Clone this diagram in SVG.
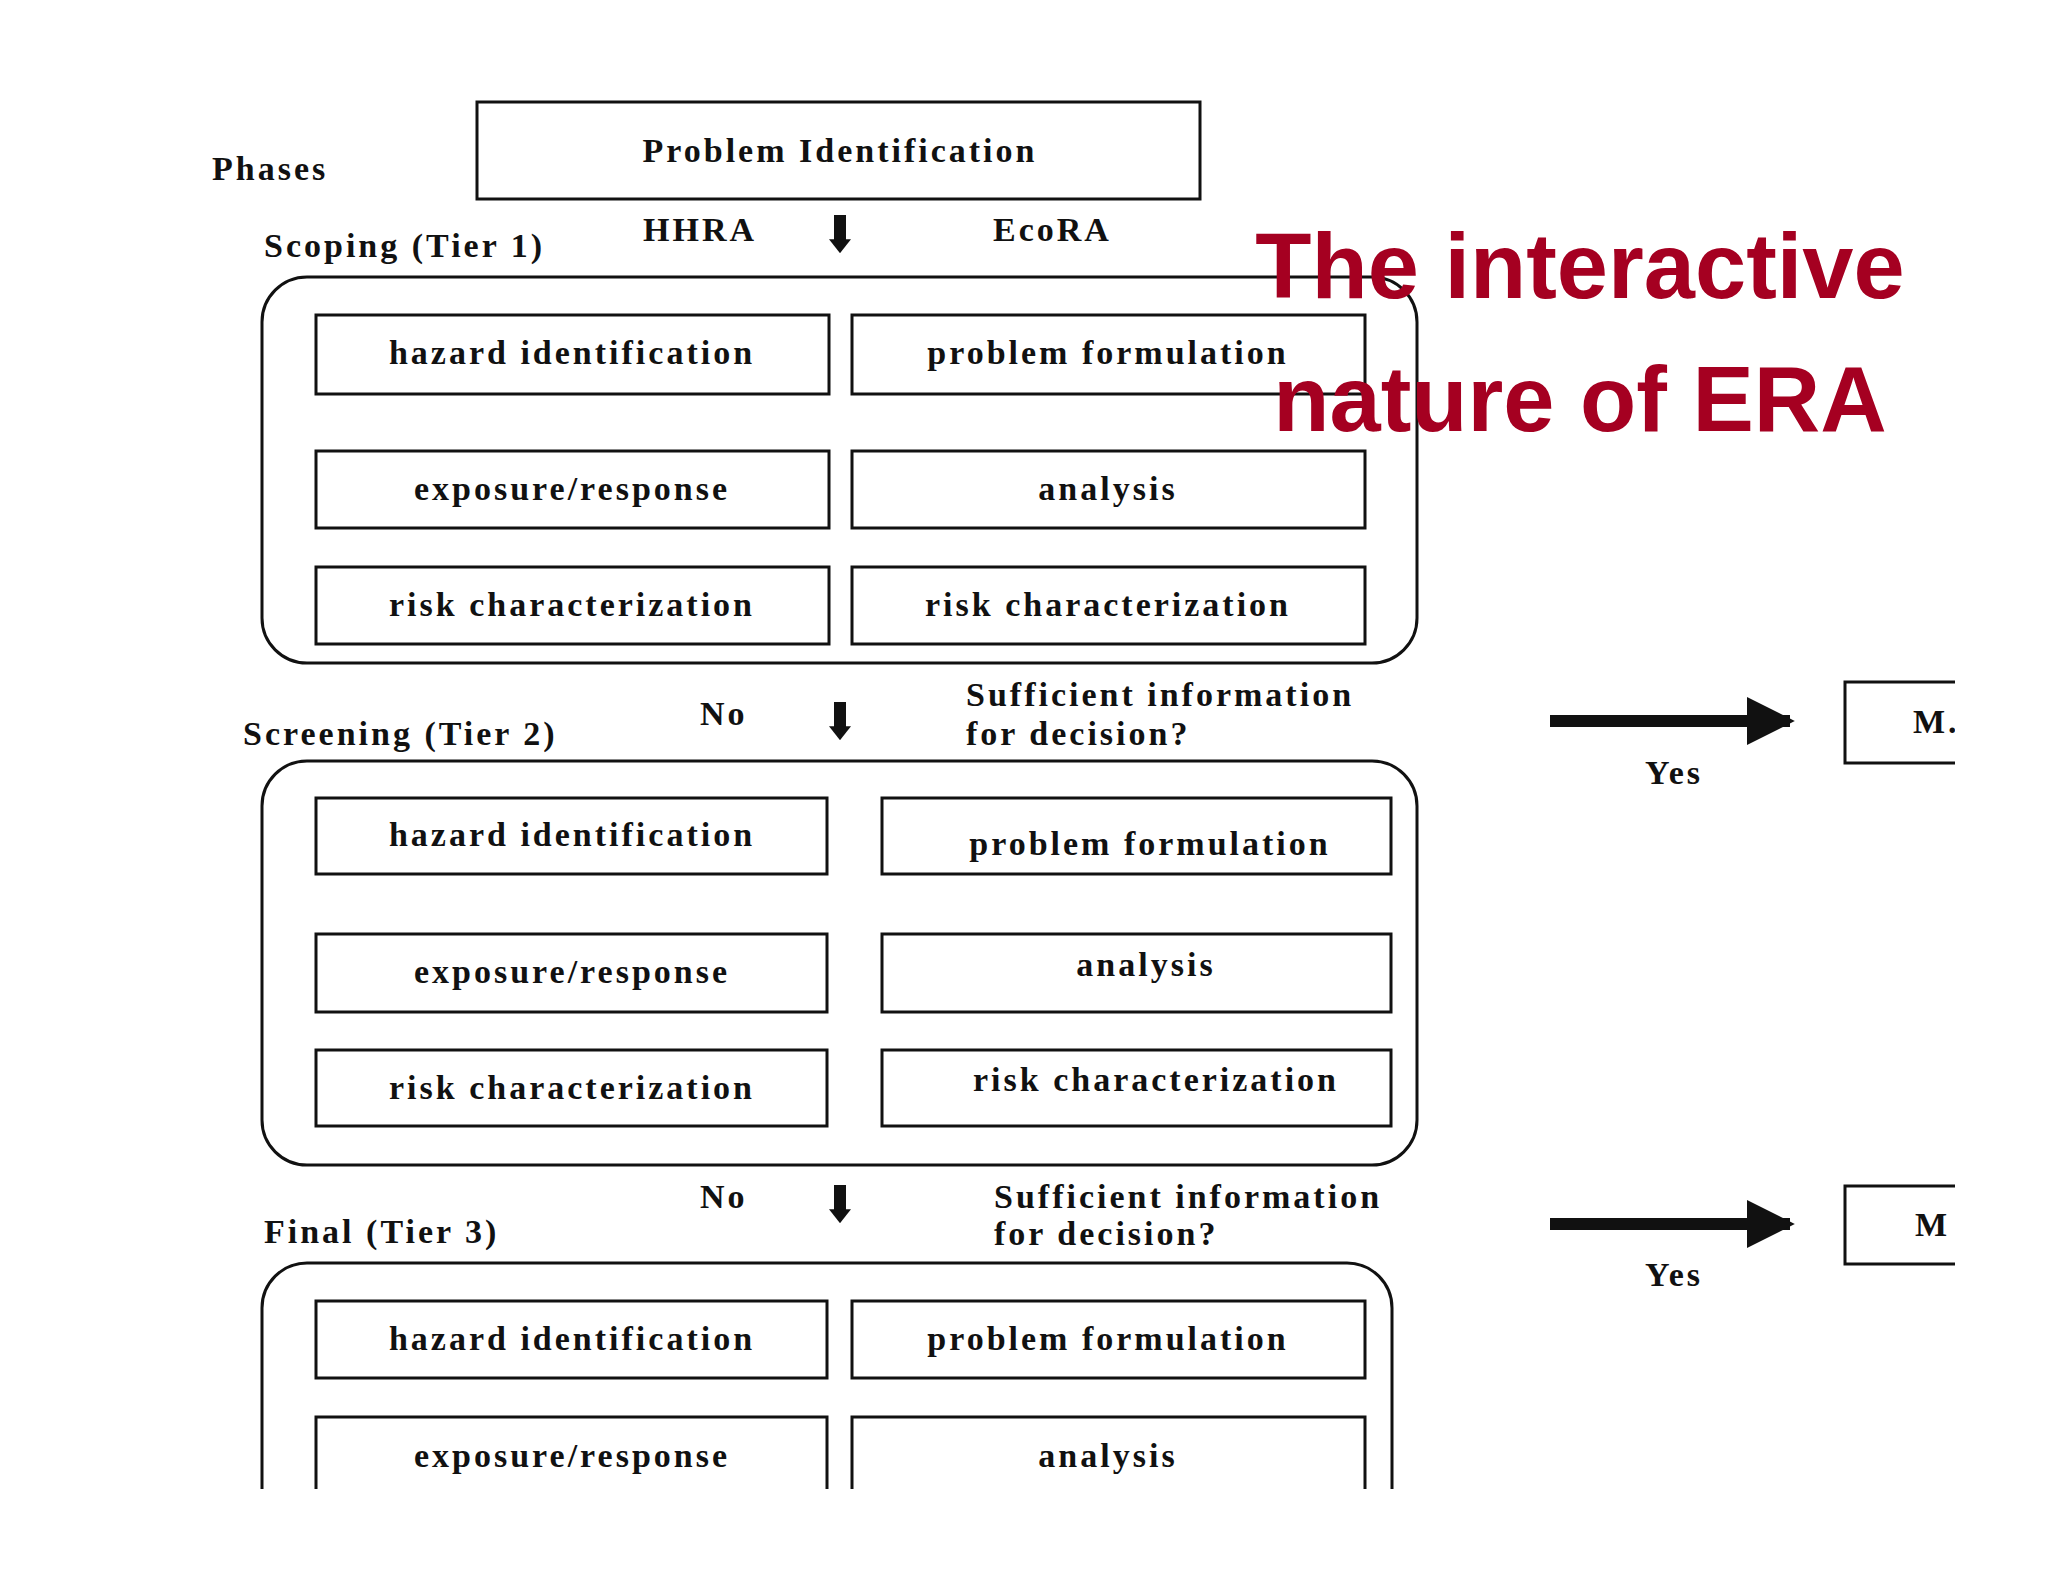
<svg xmlns="http://www.w3.org/2000/svg" width="2048" height="1582" viewBox="0 0 2048 1582">
<style>
.t{font-family:"Liberation Serif",serif;font-weight:bold;font-size:34px;letter-spacing:3px;fill:#111}
.c{text-anchor:middle}
.b{fill:#fff;stroke:#111;stroke-width:3}
.r{fill:none;stroke:#111;stroke-width:3}
.ttl{font-family:"Liberation Sans",Arial,sans-serif;font-weight:bold;font-size:92px;fill:#A50021;text-anchor:middle}
</style>
<defs>
<clipPath id="cb"><rect x="0" y="0" width="1955" height="1489"/></clipPath>
<marker id="ah" viewBox="0 0 10 10" refX="9" refY="5" markerWidth="4" markerHeight="4" orient="auto"><path d="M0,0 L10,5 L0,10 z" fill="#111"/></marker>
<marker id="dh" viewBox="0 0 10 10" refX="2" refY="5" markerUnits="userSpaceOnUse" markerWidth="14" markerHeight="22" orient="auto" preserveAspectRatio="none"><path d="M0,0 L10,5 L0,10 z" fill="#111"/></marker>
</defs>
<rect width="2048" height="1582" fill="#fff"/>
<g clip-path="url(#cb)">
<text class="t" x="212" y="180">Phases</text>
<g id="problem"><rect class="b" x="477" y="102" width="723" height="97"/><text class="t c" x="840" y="162">Problem  Identification</text></g>
<text class="t" x="643" y="241">HHRA</text>
<text class="t" x="993" y="241">EcoRA</text>
<text class="t" x="264" y="257">Scoping (Tier 1)</text>
<g id="tier1">
<rect class="r" x="262" y="277" width="1155" height="386" rx="45"/>
<rect class="b" x="316" y="315" width="513" height="79"/><text class="t c" x="572" y="364">hazard identification</text>
<rect class="b" x="852" y="315" width="513" height="79"/><text class="t c" x="1108" y="364">problem formulation</text>
<rect class="b" x="316" y="451" width="513" height="77"/><text class="t c" x="572" y="500">exposure/response</text>
<rect class="b" x="852" y="451" width="513" height="77"/><text class="t c" x="1108" y="500">analysis</text>
<rect class="b" x="316" y="567" width="513" height="77"/><text class="t c" x="572" y="616">risk characterization</text>
<rect class="b" x="852" y="567" width="513" height="77"/><text class="t c" x="1108" y="616">risk characterization</text>
</g>
<text class="ttl" x="1580" y="298">The interactive</text>
<text class="ttl" x="1580" y="431">nature of ERA</text>
<text class="t" x="700" y="725">No</text>
<text class="t" x="966" y="706">Sufficient information</text>
<text class="t" x="966" y="745">for decision?</text>
<text class="t" x="243" y="745">Screening (Tier 2)</text>
<g id="tier2">
<rect class="r" x="262" y="761" width="1155" height="404" rx="45"/>
<rect class="b" x="316" y="798" width="511" height="76"/><text class="t c" x="572" y="846">hazard identification</text>
<rect class="b" x="882" y="798" width="509" height="76"/><text class="t c" x="1150" y="855">problem formulation</text>
<rect class="b" x="316" y="934" width="511" height="78"/><text class="t c" x="572" y="983">exposure/response</text>
<rect class="b" x="882" y="934" width="509" height="78"/><text class="t c" x="1146" y="976">analysis</text>
<rect class="b" x="316" y="1050" width="511" height="76"/><text class="t c" x="572" y="1099">risk characterization</text>
<rect class="b" x="882" y="1050" width="509" height="76"/><text class="t c" x="1156" y="1091">risk characterization</text>
</g>
<text class="t" x="700" y="1208">No</text>
<text class="t" x="994" y="1208">Sufficient information</text>
<text class="t" x="994" y="1245">for decision?</text>
<text class="t" x="264" y="1243">Final (Tier 3)</text>
<g id="tier3">
<rect class="r" x="262" y="1263" width="1130" height="300" rx="45"/>
<rect class="b" x="316" y="1301" width="511" height="77"/><text class="t c" x="572" y="1350">hazard identification</text>
<rect class="b" x="852" y="1301" width="513" height="77"/><text class="t c" x="1108" y="1350">problem formulation</text>
<rect class="b" x="316" y="1417" width="511" height="90"/><text class="t c" x="572" y="1467">exposure/response</text>
<rect class="b" x="852" y="1417" width="513" height="90"/><text class="t c" x="1108" y="1467">analysis</text>
</g>
<g id="m1"><rect class="b" x="1845" y="682" width="130" height="81"/><text class="t" x="1913" y="733">M.</text></g>
<g id="m2"><rect class="b" x="1845" y="1186" width="130" height="78"/><text class="t" x="1915" y="1236">M</text></g>
<text class="t c" x="1674" y="784">Yes</text>
<text class="t c" x="1674" y="1286">Yes</text>
<g id="connectors">
<line x1="840" y1="215" x2="840" y2="242" stroke="#111" stroke-width="12" marker-end="url(#dh)"/>
<line x1="840" y1="702" x2="840" y2="729" stroke="#111" stroke-width="12" marker-end="url(#dh)"/>
<line x1="840" y1="1185" x2="840" y2="1212" stroke="#111" stroke-width="12" marker-end="url(#dh)"/>
<line x1="1550" y1="721" x2="1790" y2="721" stroke="#111" stroke-width="12" marker-end="url(#ah)"/>
<line x1="1550" y1="1224" x2="1790" y2="1224" stroke="#111" stroke-width="12" marker-end="url(#ah)"/>
</g>
</g>
</svg>
